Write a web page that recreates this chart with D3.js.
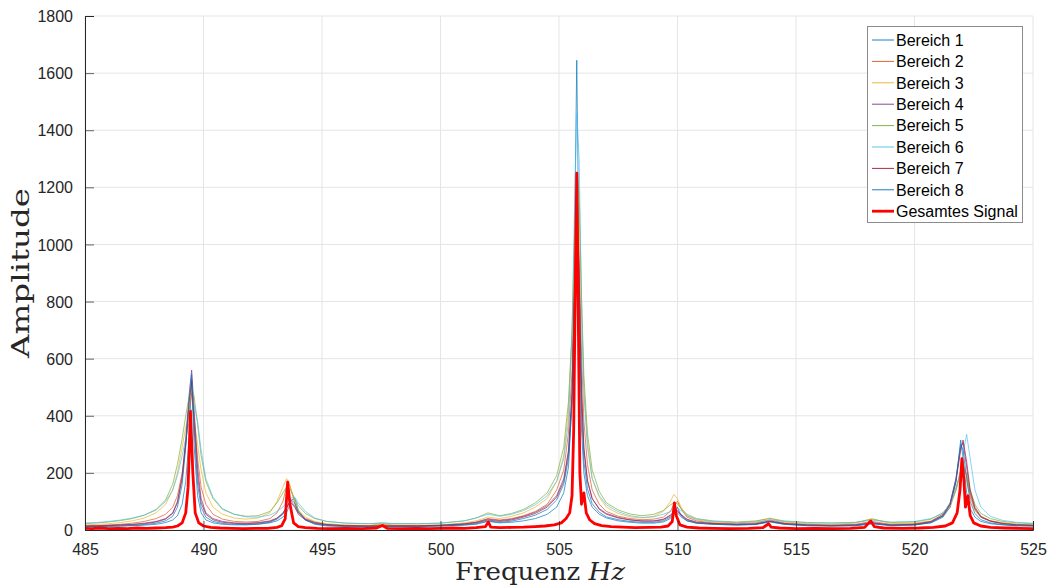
<!DOCTYPE html>
<html><head><meta charset="utf-8">
<script src="https://cdn.jsdelivr.net/npm/d3@7"></script>
<style>body{margin:0;background:#fff}svg{display:block}</style>
</head><body>
<svg id="c" width="1056" height="588"></svg>
<script>
const xTicks = [485,490,495,500,505,510,515,520,525];
const yTicks = [0,200,400,600,800,1000,1200,1400,1600,1800];
const seriesNames = ["Bereich 1","Bereich 2","Bereich 3","Bereich 4","Bereich 5","Bereich 6","Bereich 7","Bereich 8"];
const seriesColors = ["#0072BD","#D95319","#EDB120","#7E2F8E","#77AC30","#4DBEEE","#A2142F","#0072BD"];
const totalName = "Gesamtes Signal";

const freq = [485,485.5,486,486.5,487,487.5,488,488.4,488.7,488.9,489.1,489.25,489.4,489.5,489.6,489.75,489.9,490.1,490.4,490.8,
491.3,491.8,492.3,492.8,493.1,493.35,493.5,493.6,493.7,493.85,494.0,494.3,494.7,495.2,496,497,497.5,498,499,500,
501,501.5,502,502.5,503,503.5,504,504.5,504.9,505.2,505.4,505.55,505.65,505.75,505.85,505.95,506.05,506.2,506.4,506.7,
507,507.5,508,508.5,509,509.4,509.7,509.85,510,510.15,510.4,510.8,511.5,512.5,513.3,513.9,514.5,515.5,516.5,517.5,
518.2,519,520,520.7,521.2,521.5,521.75,521.95,522.05,522.2,522.35,522.55,522.8,523.2,523.7,524.3,525];

const bereich1 = [12,12,13,14,15,17,20,26,35,50,90,170,330,530,300,120,60,35,25,20,
18,18,20,25,32,45,60,80,105,110,70,35,20,14,12,11,12,12,12,14,
17,20,30,25,27,32,40,55,80,130,220,450,1000,1645,900,350,200,120,80,55,
42,32,27,24,24,28,40,60,80,50,32,24,20,18,20,30,20,15,14,15,
22,16,18,25,45,80,170,315,250,130,75,45,30,22,18,15,14];
const bereich2 = [15,16,18,20,24,30,40,55,80,120,200,300,420,480,400,250,150,90,55,38,
30,28,30,40,60,100,150,165,140,95,65,40,28,20,16,15,20,16,15,16,
22,28,40,35,40,50,65,90,140,210,340,560,900,1180,950,620,380,230,140,90,
65,48,40,36,38,45,65,90,100,75,45,32,25,22,25,35,25,20,18,20,
30,20,22,30,50,80,140,210,230,190,120,70,45,32,25,20,18];
const bereich3 = [18,20,22,26,32,42,60,90,140,200,290,360,410,420,390,300,210,130,80,55,
42,38,42,60,100,150,180,170,140,100,70,45,30,22,18,16,22,18,17,18,
25,32,45,40,48,60,80,110,170,260,420,680,980,1240,1120,760,500,310,180,115,
80,58,46,42,48,65,100,125,110,80,50,35,28,25,30,42,28,22,20,24,
40,22,24,32,55,85,140,190,200,170,115,70,45,32,25,20,18];
const bereich4 = [14,15,16,18,20,24,30,40,60,100,190,320,480,560,430,220,110,60,40,30,
25,24,26,32,42,60,80,95,100,85,60,38,26,19,15,14,15,15,15,17,
22,27,38,33,38,48,62,85,120,180,280,480,800,1080,850,480,280,170,110,75,
58,44,36,32,32,38,52,65,70,55,38,28,23,20,22,32,23,18,16,18,
26,18,20,30,55,95,180,290,305,220,130,75,45,30,22,18,16];
const bereich5 = [22,25,28,33,40,52,72,105,160,230,320,400,470,500,470,370,260,170,110,72,
55,48,50,65,95,130,150,148,135,110,85,58,40,30,24,22,25,23,22,24,
32,42,60,50,58,72,95,130,190,290,450,700,1020,1250,1180,820,540,340,210,135,
95,70,56,50,55,68,88,95,92,75,55,40,32,28,32,40,32,26,24,26,
38,26,28,38,60,90,150,200,220,195,140,90,58,40,30,25,22];
const bereich6 = [25,26,30,35,42,52,70,100,140,190,260,320,380,420,440,380,280,180,115,75,
55,46,45,52,65,80,95,105,112,115,95,65,42,30,24,22,24,22,22,24,
32,42,55,48,55,68,88,120,170,250,380,700,1100,1460,1300,800,480,290,180,120,
88,64,50,44,46,55,65,72,75,68,50,38,30,26,28,36,30,26,25,27,
34,28,30,40,60,90,140,210,270,335,250,140,80,48,34,27,24];
const bereich7 = [13,14,15,17,19,22,28,38,58,95,180,300,450,520,380,190,95,55,36,27,
23,22,24,30,40,58,78,90,95,80,55,35,24,18,15,14,15,14,14,16,
20,25,35,30,35,45,58,80,115,170,270,470,820,1150,900,500,290,175,110,72,
55,42,35,31,31,36,50,62,65,52,36,26,22,19,21,30,22,17,15,17,
25,17,19,28,50,90,170,280,315,240,140,80,48,32,23,18,16];
const bereich8 = [11,12,13,14,16,19,24,32,48,80,160,290,460,545,360,160,80,45,30,23,
20,19,21,27,38,55,75,92,105,95,62,35,22,16,13,12,13,12,12,14,
18,22,32,27,31,40,52,72,105,160,250,440,760,1000,780,420,240,145,92,62,
46,36,30,27,27,32,45,58,60,46,32,24,20,17,19,28,20,15,14,15,
22,15,17,26,48,90,180,300,280,180,100,58,36,25,19,15,14];

const freqTotal = [485,485.3,485.6,486,486.4,486.8,487.2,487.6,488,488.4,488.7,488.9,489.1,489.25,489.35,489.45,489.55,489.65,489.8,490,
490.3,490.7,491.2,491.7,492.2,492.7,493.1,493.3,493.45,493.55,493.65,493.8,494,494.3,494.8,495.3,496,496.7,497.3,497.55,
497.75,498.3,499,499.5,500,500.5,501,501.5,501.9,502.02,502.12,502.5,503,503.5,504,504.4,504.8,505.1,505.3,505.45,
505.55,505.62,505.68,505.75,505.82,505.88,505.95,506.05,506.15,506.3,506.5,506.8,507.2,507.7,508.2,508.8,509.3,509.6,509.78,509.87,
509.95,510.1,510.4,510.9,511.5,512.2,513,513.6,513.85,513.95,514.3,515,515.8,516.6,517.3,517.9,518.15,518.3,518.7,519.5,
520.2,520.8,521.3,521.6,521.8,521.92,522.0,522.08,522.15,522.25,522.35,522.5,522.8,523.2,523.8,524.4,525];
const gesamt = [6,5,7,5,6,5,7,6,7,8,10,14,25,60,150,415,200,60,25,14,
9,7,6,5,6,6,9,15,40,168,90,25,12,8,6,5,6,5,7,16,
6,5,6,5,6,7,6,8,12,28,10,8,9,10,12,14,18,25,40,60,
120,350,800,1250,700,200,90,130,60,35,22,15,12,10,8,9,10,14,30,95,
50,18,10,7,6,5,6,8,22,10,7,5,6,5,6,9,32,12,7,6,
7,9,14,25,60,140,250,180,80,120,50,25,14,9,7,6,5];

const series = [bereich1,bereich2,bereich3,bereich4,bereich5,bereich6,bereich7,bereich8];

const svg = d3.select("#c");
const L=85,R=1033,T=16,B=530;
const x = d3.scaleLinear().domain([485,525]).range([L,R]);
const y = d3.scaleLinear().domain([0,1800]).range([B,T]);

// grid
svg.append("g").selectAll("line").data(xTicks).join("line")
  .attr("x1",d=>x(d)).attr("x2",d=>x(d)).attr("y1",T).attr("y2",B)
  .attr("stroke","#e5e5e5").attr("stroke-width",1);
svg.append("g").selectAll("line").data(yTicks).join("line")
  .attr("y1",d=>y(d)).attr("y2",d=>y(d)).attr("x1",L).attr("x2",R)
  .attr("stroke","#e5e5e5").attr("stroke-width",1);

svg.append("clipPath").attr("id","pc").append("rect")
  .attr("x",L).attr("y",T).attr("width",R-L).attr("height",B-T);
const plot = svg.append("g").attr("clip-path","url(#pc)");

const line = d3.line().x(d=>x(d[0])).y(d=>y(d[1]));
series.forEach((s,i)=>{
  plot.append("path").attr("d",line(freq.map((f,j)=>[f,s[j]])))
    .attr("fill","none").attr("stroke",seriesColors[i]).attr("stroke-width",0.8)
    .attr("stroke-opacity",0.85);
});
plot.append("path").attr("d",line(freqTotal.map((f,j)=>[f,gesamt[j]])))
  .attr("fill","none").attr("stroke","#ff0000").attr("stroke-width",2.8)
  .attr("stroke-linejoin","round");

// axes
const xAxis = d3.axisBottom(x).tickValues(xTicks).tickSize(-9).tickPadding(14).tickFormat(d3.format("d"));
const gx = svg.append("g").attr("transform",`translate(0,${B})`).call(xAxis);
const yAxis = d3.axisLeft(y).tickValues(yTicks).tickSize(-9).tickPadding(12).tickFormat(d3.format("d"));
const gy = svg.append("g").attr("transform",`translate(${L},0)`).call(yAxis);
[gx,gy].forEach(g=>{
  g.select(".domain").attr("stroke","#262626").attr("stroke-width",1);
  g.selectAll(".tick line").attr("stroke","#262626").attr("stroke-width",0.7);
  g.selectAll(".tick text").attr("fill","#262626").attr("font-family","Liberation Sans, Arial, sans-serif").attr("font-size",16);
});
gy.selectAll(".tick text").attr("dy","0.35em");

// axis labels
svg.append("text").attr("x",540).attr("y",580).attr("text-anchor","middle")
  .attr("font-family","DejaVu Serif, serif").attr("font-size",25).attr("fill","#262626")
  .attr("textLength",170).attr("lengthAdjust","spacingAndGlyphs")
  .html('Frequenz <tspan font-style="italic">Hz</tspan>');
svg.append("text").attr("transform","translate(29,273) rotate(-90)").attr("text-anchor","middle")
  .attr("font-family","DejaVu Serif, serif").attr("font-size",25).attr("fill","#262626")
  .attr("textLength",170).attr("lengthAdjust","spacingAndGlyphs")
  .text("Amplitude");

// legend
const lg = svg.append("g");
lg.append("rect").attr("x",867.5).attr("y",26.5).attr("width",155).attr("height",196)
  .attr("fill","#fff").attr("stroke","#8c8c8c").attr("stroke-width",1);
const legItems = seriesNames.map((n,i)=>({name:n,color:seriesColors[i],w:0.9}))
  .concat([{name:totalName,color:"#ff0000",w:2.8}]);
legItems.forEach((it,i)=>{
  const yy = 40 + i*21.4;
  lg.append("line").attr("x1",872).attr("x2",894).attr("y1",yy).attr("y2",yy)
    .attr("stroke",it.color).attr("stroke-width",it.w);
  lg.append("text").attr("x",896).attr("y",yy).attr("dy","0.36em")
    .attr("font-family","Liberation Sans, Arial, sans-serif").attr("font-size",16)
    .attr("fill","#000").text(it.name);
});
</script>
</body></html>
